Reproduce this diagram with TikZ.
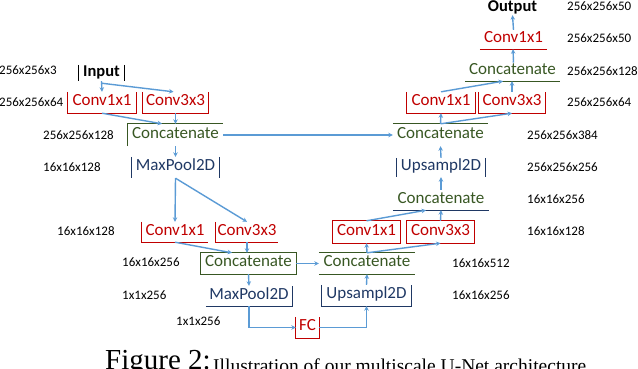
\documentclass[tikz,border=0pt]{standalone}
\usepackage{fontspec}
\setmainfont{Carlito}
\newfontfamily\capfont{Liberation Serif}
\usetikzlibrary{arrows.meta}
\definecolor{cred}{HTML}{C00000}
\definecolor{cgreen}{HTML}{385723}
\definecolor{cnavy}{HTML}{1F3864}
\definecolor{cblue}{HTML}{5B9BD5}
\begin{document}
\begin{tikzpicture}[x=1pt,y=-1pt,
  blk/.style={inner sep=0pt, text height=0.64em, text depth=0pt, font=\fontsize{17}{17}\selectfont},
  redb/.style={blk, text=cred},
  grnb/.style={blk, text=cgreen},
  navb/.style={blk, text=cnavy},
  bold/.style={inner sep=0pt, text height=0.64em, text depth=0pt, font=\bfseries\fontsize{16.5}{16.5}\selectfont},
  lbl/.style={anchor=west, inner sep=0pt, font=\fontsize{13}{13}\selectfont, text height=0.63em, text depth=0pt},
  rline/.style={draw=cred, line width=1.1pt},
  gline/.style={draw=cgreen, line width=1.1pt},
  nline/.style={draw=cnavy, line width=1.1pt},
  kline/.style={draw=black, line width=1.1pt},
  arr/.style={draw=cblue, line width=1.4pt, -{Stealth[length=4.5pt,width=4.5pt]}},
  lin/.style={draw=cblue, line width=1.4pt}
]
\useasboundingbox (0,0) rectangle (638,368);
\clip (0,0) rectangle (638,368);

% ---------- nodes ----------
\node[bold, minimum width=45pt, minimum height=16pt] (in) at (101.5,73) {Input};
\node[redb, minimum width=68pt, minimum height=21pt] (c1a) at (102,102.5) {Conv1x1};
\node[redb, minimum width=65pt, minimum height=21pt] (c3a) at (175.5,102.5) {Conv3x3};
\node[grnb, minimum width=95pt, minimum height=22pt] (cat1) at (175.5,135) {Concatenate};
\node[navb, minimum width=87pt, minimum height=21pt] (mp1) at (175.5,167.5) {MaxPool2D};
\node[redb, minimum width=66pt, minimum height=20pt] (c1b) at (175,232) {Conv1x1};
\node[redb, minimum width=62pt, minimum height=20pt] (c3b) at (247,232) {Conv3x3};
\node[grnb, minimum width=95pt, minimum height=21pt] (cat2) at (248.5,263.5) {Concatenate};
\node[navb, minimum width=86pt, minimum height=20pt] (mp2) at (249,296) {MaxPool2D};
\node[redb, minimum width=23pt, minimum height=21pt] (fc) at (307.5,327.5) {FC};
\node[navb, minimum width=89pt, minimum height=21pt] (up1) at (366.5,295.5) {Upsampl2D};
\node[grnb, minimum width=96pt, minimum height=21pt] (cat3) at (367,263.5) {Concatenate};
\node[redb, minimum width=67pt, minimum height=22pt] (c1c) at (366.5,232) {Conv1x1};
\node[redb, minimum width=67pt, minimum height=22pt] (c3c) at (440.5,232) {Conv3x3};
\node[grnb, minimum width=96pt, minimum height=20pt] (cat4) at (441,200) {Concatenate};
\node[navb, minimum width=88pt, minimum height=19pt] (up2) at (441,167.5) {Upsampl2D};
\node[grnb, minimum width=95pt, minimum height=22pt] (cat5) at (440.5,135) {Concatenate};
\node[redb, minimum width=68pt, minimum height=21pt] (c1d) at (441,102.5) {Conv1x1};
\node[redb, minimum width=66pt, minimum height=21pt] (c3d) at (512,102.5) {Conv3x3};
\node[grnb, minimum width=95pt, minimum height=19pt] (cat6) at (512.5,71.5) {Concatenate};
\node[redb, minimum width=67pt, minimum height=19pt] (c1e) at (513.5,39.5) {Conv1x1};
\node[bold, minimum width=52pt, minimum height=14pt] (out) at (512.5,8) {Output};

% ---------- partial borders ----------
\draw[kline] (in.north west) -- (in.south west) (in.north east) -- (in.south east);
\draw[rline] (c1a.north west) -- (c1a.south west) -- (c1a.south east) -- (c1a.north east);
\draw[rline] (c3a.north west) -- (c3a.south west) -- (c3a.south east) -- (c3a.north east);
\draw[gline] (cat1.south west) -- (cat1.north west) -- (cat1.north east);
\draw[nline] (mp1.north west) -- (mp1.south west) (mp1.north east) -- (mp1.south east);
\draw[rline] (c1b.north west) -- (c1b.south west) -- (c1b.south east);
\draw[rline] (c3b.north west) -- (c3b.south west) -- (c3b.south east);
\draw[gline] (cat2.north west) rectangle (cat2.south east);
\draw[nline] (mp2.south west) -- (mp2.south east) -- (mp2.north east);
\draw[rline] (fc.north west) -- (fc.south west) -- (fc.south east) -- (fc.north east);
\draw[nline] (up1.north west) -- (up1.south west) -- (up1.south east) -- (up1.north east);
\draw[gline] (cat3.north west) -- (cat3.north east) (cat3.south west) -- (cat3.south east);
\draw[rline] (c1c.north west) rectangle (c1c.south east);
\draw[rline] (c3c.north west) rectangle (c3c.south east);
\draw[nline] (cat4.south west) -- (cat4.south east);
\draw[nline] (up2.north west) -- (up2.south west) (up2.north east) -- (up2.south east);
\draw[gline] (cat5.north west) -- (cat5.north east);
\draw[rline] (c1d.north west) -- (c1d.south west) -- (c1d.south east) -- (c1d.north east);
\draw[rline] (c3d.north west) -- (c3d.south west) -- (c3d.south east) -- (c3d.north east);
\draw[gline] (cat6.south west) -- (cat6.south east);
\draw[rline] (c1e.south west) -- (c1e.south east);

% ---------- connectors ----------
\draw[arr] (in.south) -- (c1a.north);
\draw[arr] ([yshift=-2pt]in.south) -- ([xshift=-2pt]c3a.north);
\draw[arr] (c1a.south) -- ([xshift=-13.5pt]cat1.north);
\draw[arr] (c3a.south) -- (cat1.north);
\draw[arr] (cat1.east) -- (cat5.west);
\draw[arr] (cat1.south) -- (mp1.north);
\draw[arr] (mp1.south) -- (c1b.north);
\draw[arr] (mp1.south) -- (c3b.north);
\draw[arr] (c1b.south) -- ([xshift=-16.5pt]cat2.north);
\draw[arr] (c3b.south) -- (c3b.south |- cat2.north);
\draw[arr] (cat2.east) -- (cat3.west);
\draw[arr] (cat2.south) -- (mp2.north);
\draw[arr] (mp2.south) |- (fc.west);
\draw[arr] (fc.east) -| (up1.south);
\draw[arr] (up1.north) -- (cat3.south);
\draw[arr] (cat3.north) -- (c1c.south);
\draw[arr] (cat3.north) -- (c3c.south);
\draw[arr] (c1c.north) -- ([xshift=-15pt]cat4.south);
\draw[arr] (c3c.north) -- (cat4.south);
\draw[arr] (cat4.north) -- (up2.south);
\draw[arr] (up2.north) -- (cat5.south);
\draw[arr] (cat5.north) -- (c1d.south);
\draw[arr] (cat5.north) -- (c3d.south);
\draw[arr] (c1d.north) -- ([xshift=-9.5pt]cat6.south);
\draw[arr] (c3d.north) -- (c3d.north |- cat6.south);
\draw[arr] (cat6.north) -- (c1e.south |- cat6.north) -- ([xshift=-0.5pt]c1e.south);
\draw[arr] (c1e.north) -- (out.south);

% ---------- size labels ----------
\node[lbl] (l1) at (-1,71) {256x256x3};
\node[lbl] (l2) at (-1,103) {256x256x64};
\node[lbl] (l3) at (43,136) {256x256x128};
\node[lbl] (l4) at (43,168) {16x16x128};
\node[lbl] (l5) at (57,232) {16x16x128};
\node[lbl] (l6) at (122,263) {16x16x256};
\node[lbl] (l7) at (122,296) {1x1x256};
\node[lbl] (l8) at (176,322) {1x1x256};
\node[lbl] (l9) at (452,264) {16x16x512};
\node[lbl] (l10) at (452,296) {16x16x256};
\node[lbl] (l11) at (527,200) {16x16x256};
\node[lbl] (l12) at (527,232) {16x16x128};
\node[lbl] (l13) at (527,168) {256x256x256};
\node[lbl] (l14) at (527,136) {256x256x384};
\node[lbl] (l15) at (567,103) {256x256x64};
\node[lbl] (l16) at (567,72) {256x256x128};
\node[lbl] (l17) at (567,39) {256x256x50};
\node[lbl] (l18) at (567,7) {256x256x50};

% ---------- caption (cut off by the picture's lower edge, as in the reference) ----------
\node[anchor=base west, inner sep=0pt, font=\capfont\fontsize{29}{29}\selectfont] (cap) at (105,369) {Figure 2:};
\node[anchor=base west, inner sep=0pt, font=\capfont\fontsize{19.5}{19.5}\selectfont] (capt) at (213,372) {Illustration of our multiscale U-Net architecture};
\end{tikzpicture}
\end{document}
